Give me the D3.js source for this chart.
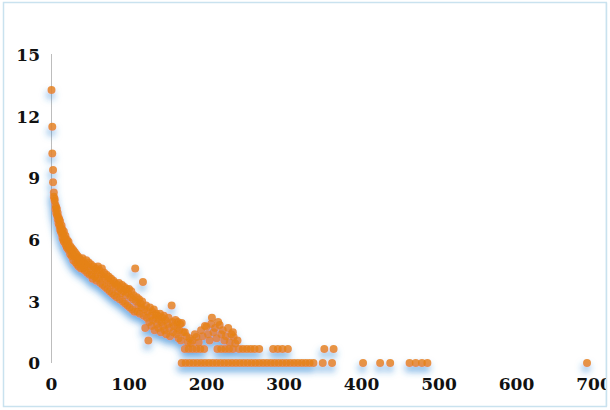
<!DOCTYPE html>
<html>
<head>
<meta charset="utf-8">
<script src="https://cdn.jsdelivr.net/npm/d3@7"></script>
<style>
  html, body { margin: 0; padding: 0; background: #ffffff; }
  svg { display: block; }
  .tick-label { font-family: "DejaVu Serif", serif; font-weight: bold; font-size: 17px; fill: #111; }
</style>
</head>
<body>
<svg id="chart" width="610" height="410"></svg>
<script>
// ---- data ----
const xValues = [
  0,1,1,2,2,3,3,4,4,5,5,6,6,7,7,8,8,9,9,10,10,11,11,12,12,13,13,14,14,15,15,16,16,17,18,18,19,20,20,21,
  22,22,23,24,24,25,26,26,27,28,28,29,30,31,31,32,33,34,34,35,36,37,38,38,39,40,41,42,43,44,45,46,47,48,49,50,
  51,52,53,54,55,56,57,58,59,60,61,62,63,64,65,66,67,68,69,70,71,72,73,74,75,76,77,78,79,80,
  81,82,83,84,85,86,87,88,89,90,91,92,93,94,95,96,97,98,99,100,101,102,103,104,105,106,107,108,109,110,
  111,112,113,114,115,116,117,118,119,120,121,122,123,124,125,126,127,128,129,130,131,132,133,134,135,136,137,138,139,140,
  141,142,143,144,145,146,147,148,150,151,152,153,155,156,157,158,160,161,162,163,164,165,166,167,168,170,172,174,176,178,
  180,182,185,187,190,193,195,198,200,202,204,206,207,209,211,213,215,217,219,221,223,225,228,230,232,234,235,237,240,
  // row near 0.7
  172,177,182,187,192,197,214,219,224,229,234,242,247,252,257,262,268,286,292,298,305,352,364,
  // row at 0
  168,173,178,183,188,193,198,203,208,213,218,223,228,233,238,243,248,253,258,263,268,273,278,283,288,293,298,303,308,313,318,
  323,328,333,338,350,362,402,424,437,462,470,478,485,691
];
const yValues = [
  13.3,11.5,10.2,9.4,8.8,8.3,8.1,7.9,8.0,7.7,7.5,7.6,7.3,7.2,7.5,7.3,7.0,7.1,6.8,7.0,6.7,6.9,6.5,6.6,6.4,6.7,6.3,6.5,6.1,6.3,6.0,6.4,5.9,6.1,5.8,6.2,5.7,6.0,5.6,5.85,
  5.5,5.9,5.6,5.3,5.7,5.5,5.2,5.6,5.3,5.0,5.5,5.2,5.4,4.9,5.2,5.3,4.8,5.0,5.2,4.7,5.1,4.9,4.6,5.0,4.8,5.1,4.6,4.9,4.5,4.8,5.0,4.4,4.7,4.9,4.3,4.6,
  4.8,4.3,4.1,4.7,4.5,4.2,4.6,4.0,4.4,4.7,4.1,4.5,3.9,4.3,4.6,3.8,4.2,4.4,3.7,4.1,4.3,3.6,4.0,4.2,3.5,3.9,4.1,3.4,3.8,4.0,
  3.3,3.9,3.7,3.2,3.8,3.5,3.9,3.1,3.6,3.4,3.8,3.0,3.5,3.7,2.9,3.3,3.6,2.8,3.4,3.6,2.7,3.2,3.5,2.6,3.1,3.3,2.5,4.6,3.0,3.2,
  2.5,2.8,3.1,2.4,2.9,2.7,3.0,3.95,2.3,2.6,1.7,2.8,2.2,2.5,1.1,2.0,2.7,2.3,1.8,2.5,2.1,2.6,1.6,2.2,2.4,1.9,2.3,1.7,2.1,2.4,
  1.5,2.0,2.2,1.8,2.3,1.6,2.1,1.4,1.9,2.2,1.7,1.3,2.8,2.0,1.5,1.8,2.1,1.4,1.7,2.0,1.2,1.6,1.9,1.1,1.95,1.5,1.5,1.3,1.0,1.2,
  0.95,1.1,1.4,1.27,1.0,1.6,1.3,1.8,1.76,1.4,1.1,1.9,2.2,1.5,1.7,1.2,2.0,1.85,1.4,1.6,1.1,1.3,1.7,1.0,1.4,1.5,1.27,0.95,1.1,
  0.68,0.68,0.68,0.68,0.68,0.68,0.68,0.68,0.68,0.68,0.68,0.68,0.68,0.68,0.68,0.68,0.68,0.68,0.68,0.68,0.68,0.68,0.68,
  0,0,0,0,0,0,0,0,0,0,0,0,0,0,0,0,0,0,0,0,0,0,0,0,0,0,0,0,0,0,0,
  0,0,0,0,0,0,0,0,0,0,0,0,0,0,0
];
const xTicks = [0, 100, 200, 300, 400, 500, 600, 700];
const yTicks = [0, 3, 6, 9, 12, 15];

const points = xValues.map((x, i) => ({ x, y: yValues[i] }));

// ---- drawing ----
const svg = d3.select("#chart");

const x = d3.scaleLinear().domain([0, 700]).range([51.5, 594]);
const y = d3.scaleLinear().domain([0, 15]).range([363, 55]);

// outer border
svg.append("rect")
  .attr("x", 3.5).attr("y", 2.5).attr("width", 603).attr("height", 404)
  .attr("fill", "#ffffff").attr("stroke", "#c9e2ef").attr("stroke-width", 1.5);

// shadow filter (blue glow under markers)
const defs = svg.append("defs");
const f = defs.append("filter").attr("id", "shadow")
  .attr("x", "-10%").attr("y", "-10%").attr("width", "120%").attr("height", "130%");
f.append("feDropShadow")
  .attr("dx", -1).attr("dy", 5).attr("stdDeviation", 3.5)
  .attr("flood-color", "#2f86d4").attr("flood-opacity", 0.7);

// y axis line
svg.append("line")
  .attr("x1", x(0)).attr("x2", x(0))
  .attr("y1", y(15) - 1).attr("y2", y(0))
  .attr("stroke", "#bdbdbd").attr("stroke-width", 1);

// y tick labels
svg.append("g").selectAll("text").data(yTicks).join("text")
  .attr("class", "tick-label")
  .attr("x", 40).attr("y", d => y(d))
  .attr("dy", "0.36em")
  .attr("text-anchor", "end")
  .text(d => d);

// x tick labels
svg.append("g").selectAll("text").data(xTicks).join("text")
  .attr("class", "tick-label")
  .attr("x", d => x(d)).attr("y", 384)
  .attr("dy", "0.36em")
  .attr("text-anchor", "middle")
  .text(d => d);

// points
svg.append("g").attr("filter", "url(#shadow)")
  .selectAll("circle").data(points).join("circle")
  .attr("cx", d => x(d.x)).attr("cy", d => y(d.y))
  .attr("r", 4)
  .attr("fill", "#e5831a")
  .attr("fill-opacity", 0.85);

// right edge: the reference's frame cuts the last tick label
svg.append("rect").attr("x", 607).attr("y", 0).attr("width", 3).attr("height", 410).attr("fill", "#ffffff");
svg.append("line").attr("x1", 606.5).attr("x2", 606.5).attr("y1", 2.5).attr("y2", 406.5)
  .attr("stroke", "#c9e2ef").attr("stroke-width", 1.5);
</script>
</body>
</html>
